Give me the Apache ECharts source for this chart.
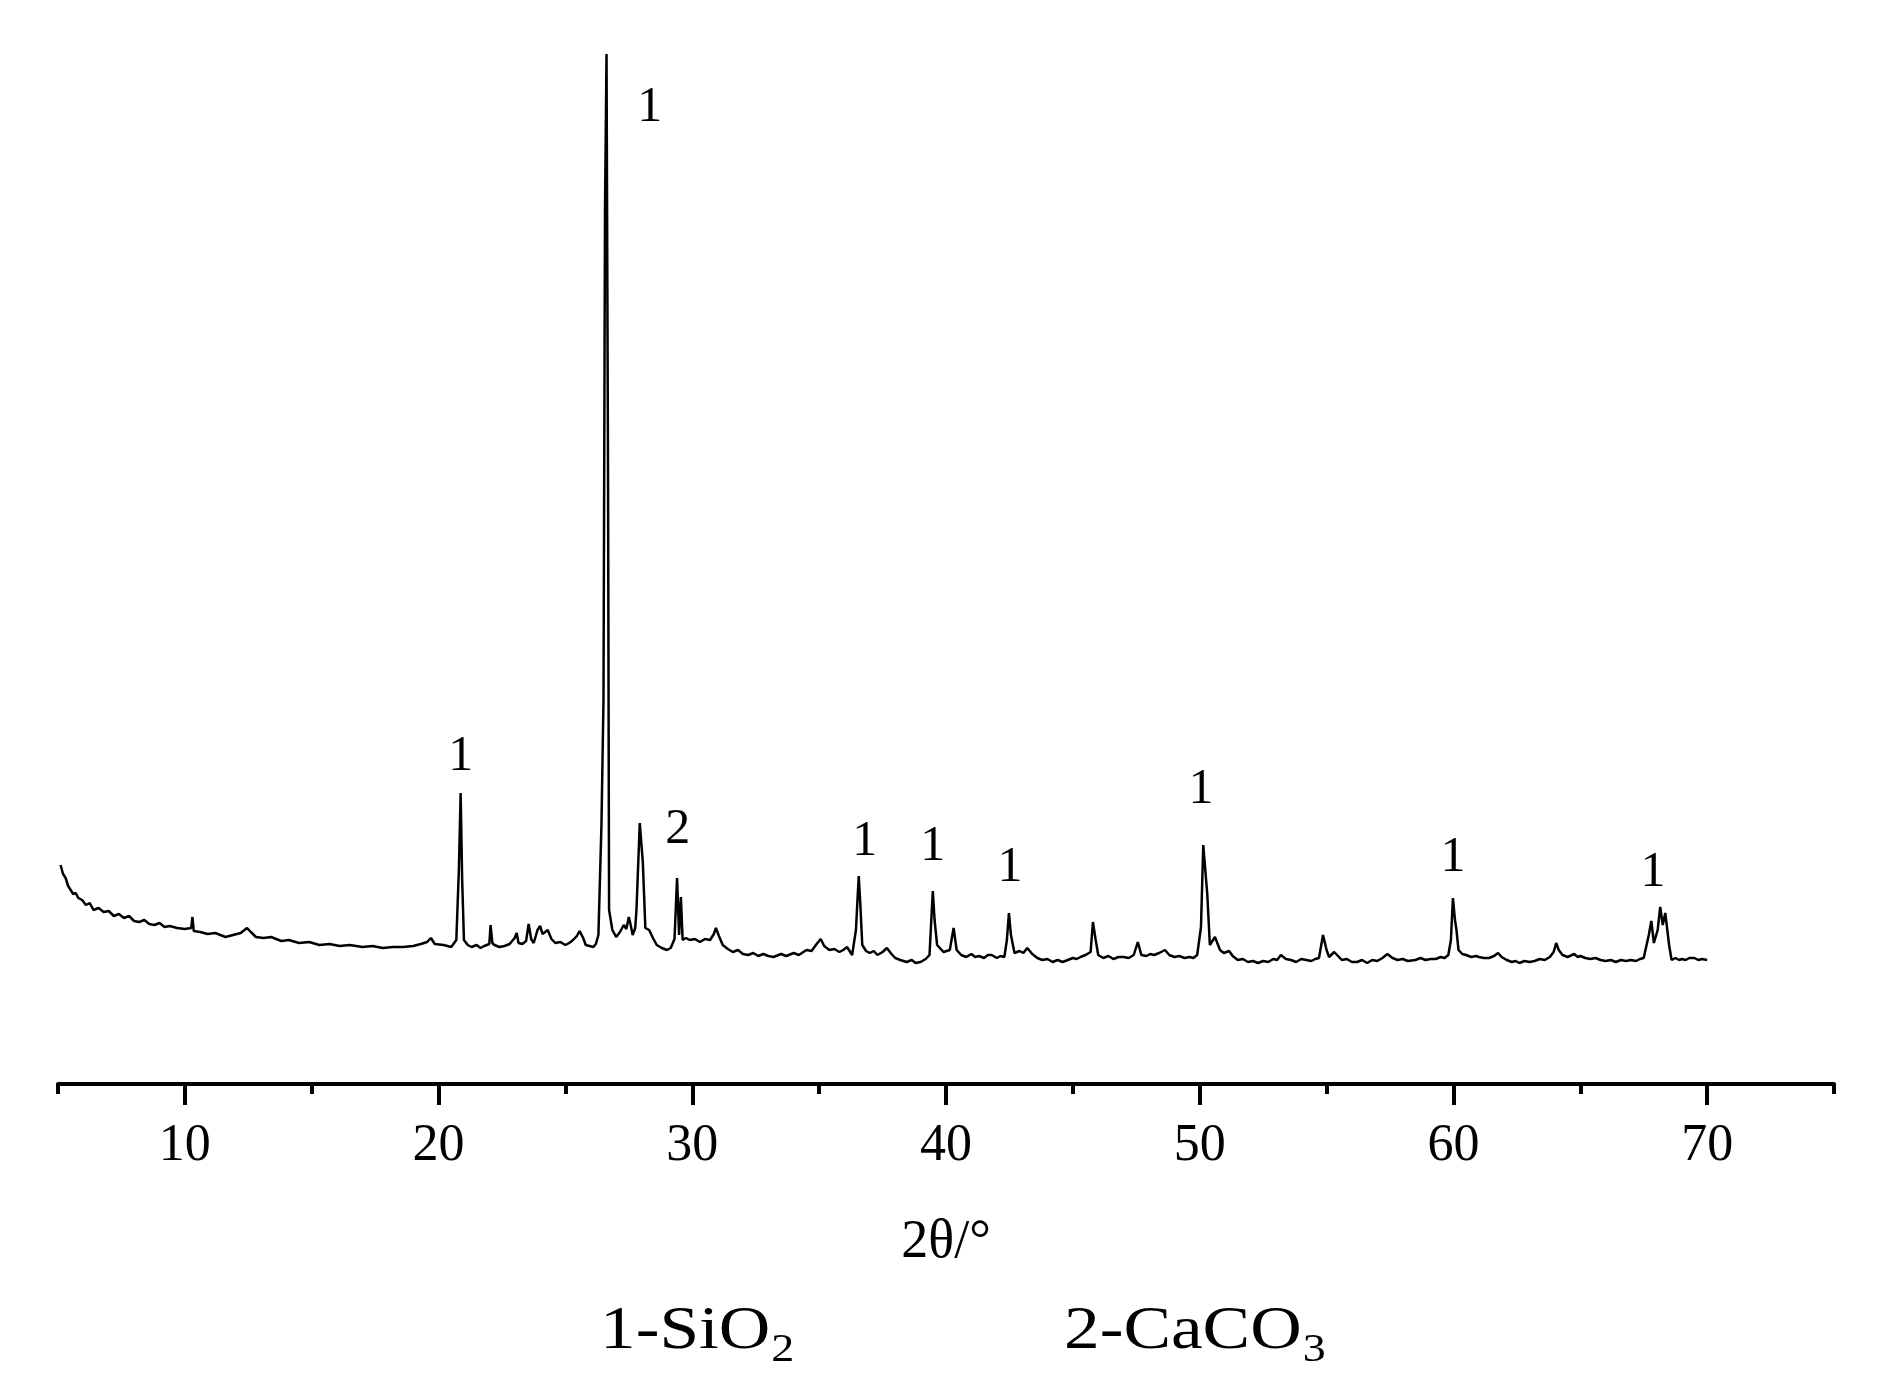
<!DOCTYPE html>
<html>
<head>
<meta charset="utf-8">
<script src="https://cdn.jsdelivr.net/npm/echarts@6/dist/echarts.min.js"></script>
<style>html,body{margin:0;padding:0;background:#fff;}#c{width:1885px;height:1398px;}</style>
</head>
<body>
<div id="c"></div>
<script>
// XRD pattern: [2θ (degrees), intensity (a.u.)]
var pattern = [
[5.1,219],[5.2,210],[5.3,206],[5.4,198],[5.5,194],[5.6,190],[5.7,191],[5.8,186],[5.95,184],[6.1,179],[6.25,181],[6.4,174],[6.6,176],[6.8,172],[7.0,173],[7.2,168],[7.4,170],[7.6,166],[7.8,168],[8.0,163],[8.2,162],[8.4,164],[8.6,160],[8.8,159],[9.0,161],[9.2,157],[9.4,158],[9.7,156],[10.0,155],[10.25,156],[10.3,167],[10.35,153],[10.6,152],[10.9,150],[11.2,151],[11.6,147],[11.9,149],[12.2,151],[12.45,156],[12.6,152],[12.8,147],[13.1,146],[13.4,147],[13.8,143],[14.1,144],[14.5,141],[14.9,142],[15.3,139],[15.7,140],[16.1,138],[16.5,139],[17.0,137],[17.4,138],[17.8,136],[18.2,137],[18.6,137],[19.0,138],[19.3,140],[19.55,142],[19.7,146],[19.85,140],[20.2,139],[20.5,137],[20.7,144],
[20.8,214],[20.87,291],[20.93,204],[21.0,144],[21.15,139],[21.3,137],[21.5,139],[21.65,136],[21.8,138],[22.0,140],[22.05,159],[22.12,141],[22.2,139],[22.4,137],[22.6,138],[22.8,140],[23.0,146],[23.08,151],[23.15,141],[23.3,140],[23.45,143],[23.55,160],[23.65,145],[23.75,141],[23.9,154],[24.0,158],[24.1,150],[24.3,154],[24.45,145],[24.6,141],[24.8,142],[25.0,139],[25.15,141],[25.3,144],[25.45,148],[25.56,153],[25.7,146],[25.8,139],[25.95,138],[26.1,137],[26.2,140],[26.3,149],
[26.42,259],[26.5,384],[26.56,874],[26.62,1030],[26.68,604],[26.72,174],[26.85,154],[27.0,147],[27.15,152],[27.3,159],[27.4,155],[27.5,167],[27.58,158],[27.65,149],[27.75,156],[27.8,174],[27.93,261],[28.05,222],[28.15,156],[28.3,154],[28.45,146],[28.6,139],[28.8,136],[29.0,134],[29.15,136],[29.3,145],[29.4,206],[29.48,149],[29.55,187],[29.62,144],[29.75,146],[29.9,144],[30.1,145],[30.3,142],[30.5,145],[30.7,144],[30.85,150],[30.93,156],[31.05,148],
[31.2,139],[31.4,135],[31.6,132],[31.8,134],[32.0,130],[32.2,129],[32.4,131],[32.6,128],[32.8,130],[33.0,128],[33.2,127],[33.5,130],[33.7,128],[34.0,131],[34.2,129],[34.5,134],[34.7,133],[34.9,140],[35.06,145],[35.2,138],[35.4,134],[35.6,135],[35.8,132],[35.95,134],[36.1,137],[36.3,129],
[36.45,154],[36.56,208],[36.62,181],[36.7,139],[36.85,133],[37.0,131],[37.15,133],[37.3,129],[37.5,132],[37.67,136],[37.85,130],[38.0,126],[38.2,124],[38.45,122],[38.65,124],[38.8,121],[39.0,122],[39.2,125],[39.35,129],
[39.48,193],[39.55,164],[39.65,139],[39.9,132],[40.15,134],[40.3,156],[40.42,134],[40.6,129],[40.8,127],[41.0,130],[41.15,127],[41.3,128],[41.5,126],[41.65,129],[41.8,129],[42.0,126],[42.15,128],[42.3,127],
[42.4,144],[42.48,171],[42.56,149],[42.7,131],[42.9,133],[43.05,131],[43.2,136],[43.4,130],[43.6,126],[43.8,124],[44.0,125],[44.2,122],[44.4,124],[44.6,122],[44.8,124],[45.0,126],[45.15,125],[45.3,127],[45.5,129],[45.7,132],
[45.79,162],[45.9,144],[46.0,129],[46.2,126],[46.4,128],[46.6,125],[46.8,127],[47.0,127],[47.2,126],[47.4,129],[47.56,142],[47.7,129],[47.9,128],[48.05,130],[48.2,129],[48.4,131],[48.63,134],[48.8,129],[49.0,127],[49.2,128],[49.4,126],[49.6,127],[49.75,126],[49.9,129],
[50.05,157],[50.14,239],[50.22,214],[50.3,189],[50.4,139],[50.6,147],[50.8,134],[50.95,131],[51.16,133],[51.3,128],[51.5,124],[51.7,125],[51.9,122],[52.1,123],[52.3,121],[52.5,123],[52.7,122],[52.9,125],[53.05,124],[53.2,129],[53.4,125],[53.6,124],[53.8,122],[54.0,125],[54.2,124],[54.4,123],[54.55,125],[54.7,126],
[54.86,149],[55.0,134],[55.1,127],[55.3,132],[55.45,128],[55.6,124],[55.8,125],[56.0,122],[56.2,122],[56.4,124],[56.6,121],[56.8,124],[57.0,123],[57.2,126],[57.4,130],[57.6,126],[57.8,124],[58.0,125],[58.2,123],[58.5,124],[58.7,126],[58.9,124],[59.1,125],[59.3,125],[59.5,127],[59.65,126],[59.8,129],
[59.9,144],[59.98,186],[60.06,164],[60.12,154],[60.2,134],[60.35,130],[60.5,129],[60.7,127],[60.9,128],[61.0,127],[61.2,126],[61.4,126],[61.6,128],[61.76,131],[61.9,127],[62.1,124],[62.3,122],[62.45,123],[62.6,121],[62.8,123],[63.0,122],[63.2,123],[63.4,125],[63.6,124],[63.8,127],[63.95,132],[64.05,141],[64.15,134],[64.3,129],[64.5,127],[64.76,130],[64.9,127],[65.0,128],[65.2,126],[65.4,125],[65.6,126],[65.8,124],[66.0,123],[66.2,124],[66.4,122],[66.6,124],[66.8,123],[67.0,124],[67.2,123],[67.35,125],[67.5,126],
[67.7,149],[67.8,163],[67.9,141],[68.05,154],[68.15,177],[68.25,159],[68.35,171],[68.5,139],[68.6,124],[68.75,126],[68.9,124],[69.0,125],[69.15,124],[69.3,126],[69.5,126],[69.65,124],[69.8,125],[70.0,124]
];
// peak annotations
var peakLabelX = [28.32, 20.87, 29.43, 36.8, 39.48, 42.52, 50.05, 59.98, 67.87];
var peakLabelY = [976, 327, 254, 242, 237, 216, 294, 226, 211];
var peakLabelText = ['1', '1', '2', '1', '1', '1', '1', '1', '1'];
// axis ticks
var majorTicks = [10, 20, 30, 40, 50, 60, 70];
var minorTicks = [5, 15, 25, 35, 45, 55, 65, 75];
var xName = '2θ/°';
var legendA = ['1-SiO', '2'];
var legendB = ['2-CaCO', '3'];

var FONT = '"Liberation Serif", "Times New Roman", serif';
var labelData = peakLabelX.map(function (x, i) { return { value: [x, peakLabelY[i]], label: { formatter: peakLabelText[i] } }; });

var meas = document.createElement('canvas').getContext('2d');
function textW(t, size) { meas.font = size + 'px ' + FONT; return meas.measureText(t).width; }
var BIG = 62, SUB = 40, SX = 1.15;
var aLeft = 600, bLeft = 1064;

var chart = echarts.init(document.getElementById('c'), null, { renderer: 'canvas' });
chart.setOption({
  backgroundColor: '#ffffff',
  animation: false,
  grid: { left: 58, right: 51, top: 34, bottom: 314, containLabel: false },
  xAxis: [{
    type: 'value', min: 5, max: 75, interval: 5,
    name: xName, nameLocation: 'middle', nameGap: 132,
    nameTextStyle: { fontFamily: FONT, fontSize: 54, color: '#000' },
    axisLine: { show: true, onZero: false, lineStyle: { color: '#000', width: 4 } },
    axisTick: { show: true, customValues: majorTicks, length: 21, lineStyle: { color: '#000', width: 4 } },
    axisLabel: { show: true, customValues: majorTicks, margin: 36, fontFamily: FONT, fontSize: 52, color: '#000' },
    splitLine: { show: false }
  }, {
    type: 'value', min: 5, max: 75, interval: 5, position: 'bottom',
    axisLine: { show: false },
    axisTick: { show: true, customValues: minorTicks, length: 10, lineStyle: { color: '#000', width: 4 } },
    axisLabel: { show: false },
    splitLine: { show: false }
  }],
  yAxis: {
    type: 'value', min: 0, max: 1050, show: false, splitLine: { show: false }
  },
  series: [{
    type: 'line', xAxisIndex: 0, data: pattern, showSymbol: false, symbol: 'none',
    lineStyle: { color: '#000', width: 2.5 }, smooth: false
  }, {
    type: 'scatter', xAxisIndex: 0, data: labelData, symbolSize: 0,
    itemStyle: { color: '#000' },
    label: { show: true, position: 'inside', fontFamily: FONT, fontSize: 50, color: '#000', opacity: 1, textBorderWidth: 0 },
    emphasis: { disabled: true },
    silent: true
  }],
  graphic: [
    { type: 'text', left: aLeft, top: 1301, scaleX: SX, style: { text: legendA[0], font: BIG + 'px ' + FONT, fill: '#000' } },
    { type: 'text', left: aLeft + textW(legendA[0], BIG) * SX + 1, top: 1330, scaleX: SX, style: { text: legendA[1], font: SUB + 'px ' + FONT, fill: '#000' } },
    { type: 'text', left: bLeft, top: 1301, scaleX: SX, style: { text: legendB[0], font: BIG + 'px ' + FONT, fill: '#000' } },
    { type: 'text', left: bLeft + textW(legendB[0], BIG) * SX + 1, top: 1330, scaleX: SX, style: { text: legendB[1], font: SUB + 'px ' + FONT, fill: '#000' } }
  ]
});
</script>
</body>
</html>
